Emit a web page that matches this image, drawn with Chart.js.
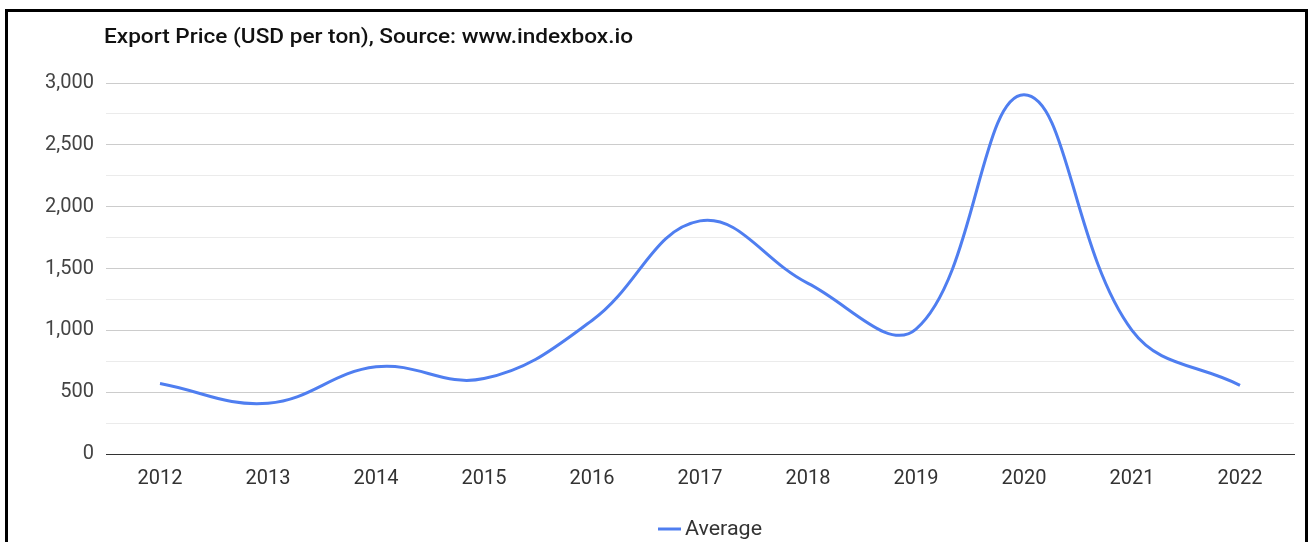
<!DOCTYPE html>
<html>
<head>
<meta charset="utf-8">
<script src="https://cdn.jsdelivr.net/npm/chart.js@4/dist/chart.umd.min.js"></script>
<style>
  html, body { margin: 0; padding: 0; background: #fff; }
  #wrap { position: absolute; left: 0; top: 0; width: 1309px; height: 542px; }
  #frame { position: absolute; left: 5px; top: 9px; width: 1303px; height: 600px; box-sizing: border-box; border: 3px solid #000; pointer-events: none; }
</style>
</head>
<body>
<div id="wrap"><canvas id="c" width="1309" height="542"></canvas></div>
<div id="frame"></div>
<script>
const titleText = 'Export Price (USD per ton), Source: www.indexbox.io';
const seriesName = 'Average';
const years = ['2012','2013','2014','2015','2016','2017','2018','2019','2020','2021','2022'];
const avgPrice = [570, 410, 705, 610, 1080, 1885, 1380, 1010, 2905, 1000, 555];
const yTickValues = [0, 500, 1000, 1500, 2000, 2500, 3000];

const lineColor = '#4f7ef0';
const fontFam = 'Roboto, "Liberation Sans", Arial, sans-serif';

function stretchedText(ctx, text, x, y, targetWidth) {
  const w = ctx.measureText(text).width;
  const sx = targetWidth / w;
  ctx.save();
  ctx.translate(x, y);
  ctx.scale(sx, 1);
  ctx.fillText(text, 0, 0);
  ctx.restore();
}

const overlay = {
  id: 'overlay',
  afterDraw(chart) {
    const ctx = chart.ctx;
    const ca = chart.chartArea;
    ctx.save();
    ctx.textAlign = 'left';
    ctx.textBaseline = 'middle';
    // title
    ctx.fillStyle = '#111';
    ctx.font = '500 20px ' + fontFam;
    stretchedText(ctx, titleText, ca.left - 2, 38, 529);
    // legend
    ctx.font = '20px ' + fontFam;
    const x0 = 658, ly = 529;
    ctx.strokeStyle = lineColor;
    ctx.lineWidth = 3;
    ctx.beginPath();
    ctx.moveTo(x0, ly);
    ctx.lineTo(x0 + 23, ly);
    ctx.stroke();
    ctx.fillStyle = '#333';
    stretchedText(ctx, seriesName, 685, ly + 1, 77);
    ctx.restore();
  }
};

new Chart(document.getElementById('c'), {
  type: 'line',
  data: {
    labels: years,
    datasets: [{
      label: seriesName,
      data: avgPrice,
      borderColor: lineColor,
      backgroundColor: lineColor,
      borderWidth: 3,
      pointRadius: 0,
      pointHoverRadius: 0,
      tension: 0.4,
      fill: false
    }]
  },
  options: {
    responsive: false,
    animation: false,
    events: [],
    layout: { padding: { top: 83, right: 15, bottom: 0, left: 0 } },
    plugins: {
      legend: { display: false },
      title: { display: false },
      tooltip: { enabled: false }
    },
    scales: {
      x: {
        offset: true,
        grid: { display: false, drawTicks: false },
        border: { display: true, color: '#333', width: 1 },
        ticks: { color: '#333', font: { family: fontFam, size: 20 }, padding: 13, maxRotation: 0, autoSkip: false },
        afterFit(scale) { scale.height = 88; }
      },
      y: {
        min: 0,
        max: 3000,
        grid: {
          drawTicks: false,
          color(ctx) {
            const v = ctx.tick.value;
            if (v === 0) return '#333';
            return (v % 500 === 0) ? '#cccccc' : '#ebebeb';
          },
          lineWidth: 1
        },
        border: { display: false },
        ticks: {
          stepSize: 250,
          autoSkip: false,
          padding: 12,
          color: '#444',
          font: { family: fontFam, size: 20 },
          callback(v) { return yTickValues.includes(v) ? v.toLocaleString('en-US') : ''; }
        },
        afterFit(scale) { scale.width = 106; }
      }
    }
  },
  plugins: [overlay]
});
</script>
</body>
</html>
